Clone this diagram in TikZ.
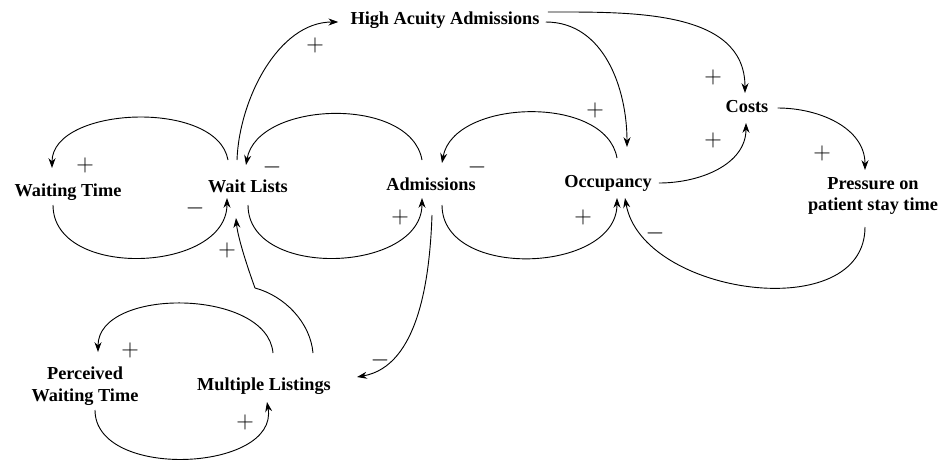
\documentclass[tikz,border=0pt]{standalone}
\usepackage{fontspec}
\setmainfont{Liberation Serif}
\usetikzlibrary{calc,arrows.meta}
\tikzset{
  var/.style={font=\bfseries\fontsize{13}{15.6}\selectfont, inner sep=0pt, align=center},
  pol/.style={font=\fontsize{16}{16}\selectfont, inner sep=0pt},
  link/.style={line width=.65pt, -{Stealth[length=7pt,width=5pt]}}
}
\begin{document}
\begin{tikzpicture}[x=0.025cm, y=0.025cm]
  \useasboundingbox (0,0) rectangle (942,-462);

  %% variables
  \node[var] (wt)   at (68,-192)  {Waiting Time};
  \node[var] (wl)   at (248,-186) {Wait Lists};
  \node[var] (adm)  at (431,-184) {Admissions};
  \node[var] (occ)  at (608,-183) {Occupancy};
  \node[var] (haa)  at (445,-20)  {High Acuity Admissions};
  \node[var] (cost) at (747,-107) {Costs};
  \node[var] (pst)  at (873,-196) {Pressure on\\patient stay time};
  \node[var] (pwt)  at (85,-386)  {Perceived\\Waiting Time};
  \node[var] (ml)   at (264,-386) {Multiple Listings};

  %% wait lists <-> waiting time
  \draw[link] ($(wl)+(-20,26)$) to[out=100,in=90,looseness=.9] ($(wt)+(-16,24)$);
  \draw[link] ($(wt)+(-15,-13)$) to[out=-90,in=-90,looseness=1.1] ($(wl)+(-21,-12)$);

  %% wait lists <-> admissions
  \draw[link] ($(adm)+(-9,24)$) to[out=100,in=80,looseness=.95] ($(wl)+(-2,21)$);
  \draw[link] ($(wl)+(0,-19)$) to[out=-90,in=-90,looseness=1.1] ($(adm)+(-9,-14)$);

  %% admissions <-> occupancy
  \draw[link] ($(occ)+(9,25)$) to[out=100,in=80,looseness=.95] ($(adm)+(11,21)$);
  \draw[link] ($(adm)+(11,-21)$) to[out=-90,in=-90,looseness=1.1] ($(occ)+(9,-15)$);

  %% high acuity admissions
  \draw[link] ($(wl)+(-11,26)$) to[out=88,in=180,looseness=.9] ($(haa.west)+(-12,-2)$);
  \draw[link] ($(haa.east)+(6,-2)$) to[out=0,in=90,looseness=1] ($(occ)+(19,36)$);
  \draw[link] ($(haa.east)+(8,8)$) to[out=0,in=90,looseness=1] ($(cost)+(-2,14)$);

  %% costs and pressure
  \draw[link] ($(occ.east)+(7,0)$) to[out=0,in=-90,looseness=1] ($(cost)+(-1,-16)$);
  \draw[link] ($(cost.east)+(9,-1)$) to[out=0,in=90,looseness=1] ($(pst)+(-8,26)$);
  \draw[link] ($(pst)+(-8,-31)$) to[out=-90,in=-80,looseness=1.05] ($(occ)+(17,-15)$);

  %% multiple listings
  \draw[link] ($(adm)+(1,-31)$) to[out=-92,in=10,looseness=.9] ($(ml.east)+(26,9)$);
  \draw[link] ($(ml)+(49,33)$) to[out=95,in=-15,looseness=.9] ($(wl)+(7,-102)$)
                               to[out=110,in=-85,looseness=.7] ($(wl)+(-12,-32)$);
  \draw[link] ($(ml)+(9,33)$) to[out=95,in=90,looseness=.95] ($(pwt)+(13,34)$);
  \draw[link] ($(pwt)+(10,-24)$) to[out=-90,in=-80,looseness=1.05] ($(ml)+(3,-16)$);

  %% polarities
  \node[pol] (p1)  at (85,-165)  {$+$};
  \node[pol] (p2)  at (195,-208) {$-$};
  \node[pol] (p3)  at (272,-167) {$-$};
  \node[pol] (p4)  at (227,-250) {$+$};
  \node[pol] (p5)  at (315,-45)  {$+$};
  \node[pol] (p6)  at (595,-110) {$+$};
  \node[pol] (p7)  at (477,-167) {$-$};
  \node[pol] (p8)  at (400,-217) {$+$};
  \node[pol] (p9)  at (583,-217) {$+$};
  \node[pol] (p10) at (655,-233) {$-$};
  \node[pol] (p11) at (713,-77)  {$+$};
  \node[pol] (p12) at (713,-140) {$+$};
  \node[pol] (p13) at (822,-153) {$+$};
  \node[pol] (p14) at (380,-360) {$-$};
  \node[pol] (p15) at (130,-350) {$+$};
  \node[pol] (p16) at (245,-422) {$+$};
\end{tikzpicture}
\end{document}
